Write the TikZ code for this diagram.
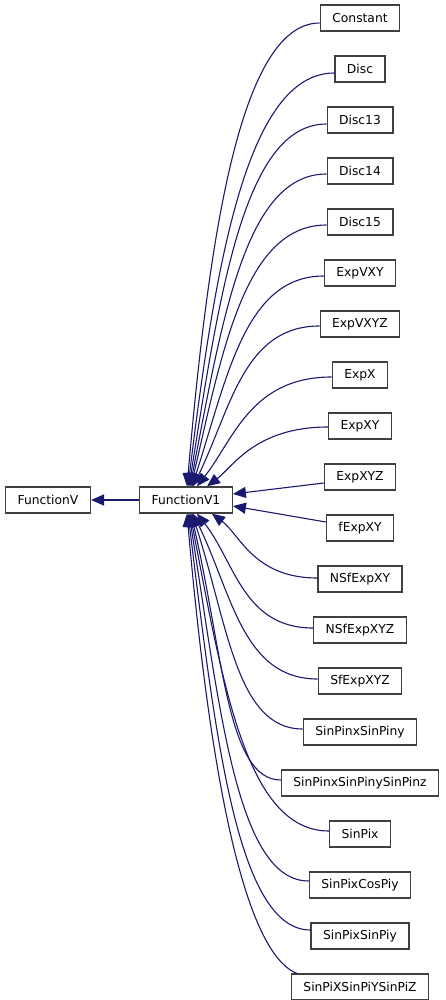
\documentclass[tikz,border=0pt]{standalone}
\usepackage{fontspec}
\setmainfont{DejaVu Sans}
\usetikzlibrary{arrows.meta,positioning,calc}
\definecolor{midnightblue}{RGB}{25,25,112}
\definecolor{boxgray}{RGB}{64,64,64}
\tikzset{
  >={Triangle[length=13pt,width=11pt]},
  cls/.style={rectangle,draw=boxgray,line width=1.3pt,fill=white,text=black,minimum height=26pt,inner xsep=12pt,inner ysep=0pt,font=\fontsize{12.3}{14}\selectfont},
  inh/.style={<-,draw=midnightblue,line width=1.1pt}
}

\begin{document}
\begin{tikzpicture}[x=1pt,y=1pt,node distance=23.7pt]
  \useasboundingbox (0,0) rectangle (445,-1000);

  \node[cls] (fv) at (48,-500) {FunctionV};
  \node[cls] (v1) at (186,-500) {FunctionV1};

  % derived classes, top to bottom
  \node[cls] (const) at (360,-18) {Constant};
  \node[cls,below=of const] (disc) {Disc};
  \node[cls,below=of disc] (disc13) {Disc13};
  \node[cls,below=of disc13] (disc14) {Disc14};
  \node[cls,below=of disc14] (disc15) {Disc15};
  \node[cls,below=of disc15] (expvxy) {ExpVXY};
  \node[cls,below=of expvxy] (expvxyz) {ExpVXYZ};
  \node[cls,below=of expvxyz] (expx) {ExpX};
  \node[cls,below=of expx] (expxy) {ExpXY};
  \node[cls,below=of expxy] (expxyz) {ExpXYZ};
  \node[cls,below=of expxyz] (fexpxy) {fExpXY};
  \node[cls,below=of fexpxy] (nsfexpxy) {NSfExpXY};
  \node[cls,below=of nsfexpxy] (nsfexpxyz) {NSfExpXYZ};
  \node[cls,below=of nsfexpxyz] (sfexpxyz) {SfExpXYZ};
  \node[cls,below=of sfexpxyz] (sinsin) {SinPinxSinPiny};
  \node[cls,below=of sinsin] (sinsinsin) {SinPinxSinPinySinPinz};
  \node[cls,below=of sinsinsin] (sinpix) {SinPix};
  \node[cls,below=of sinpix] (sincos) {SinPixCosPiy};
  \node[cls,below=of sincos] (sinpixsin) {SinPixSinPiy};
  \node[cls,below=of sinpixsin] (sinxyz) {SinPiXSinPiYSinPiZ};

  \draw[inh] (fv.east) -- (v1.west);

  % inheritance edges into FunctionV1
  \foreach \k/\s/\a/\e in {const/1/85/-5, disc/2/83/-4, disc13/3/81/-4,
      disc14/4/79/-3, disc15/5/77/-3, expvxy/6/72/-3, expvxyz/7/64/-2,
      expx/11/52/-2, expxy/21/37/-1}
    \draw[inh] let \p1=([xshift=\s pt]v1.north), \p2=([yshift=\e pt]\k.west) in
      (\p1) .. controls +(\a:{0.54*abs(\y2-\y1)}) and +({-0.6*(\x2-\x1)},0) .. (\p2);
  \draw[inh] ([yshift=6pt]v1.east) -- ([yshift=-6pt]expxyz.west);
  \draw[inh] ([yshift=-6pt]v1.east) -- ([yshift=6pt]fexpxy.west);
  \foreach \k/\s/\a/\e in {nsfexpxy/26/-37/1, nsfexpxyz/11/-52/2,
      sfexpxyz/7/-64/2, sinsin/6/-72/3, sinsinsin/5/-77/3, sinpix/4/-79/3,
      sincos/3/-81/4, sinpixsin/2/-83/6}
    \draw[inh] let \p1=([xshift=\s pt]v1.south), \p2=([yshift=\e pt]\k.west) in
      (\p1) .. controls +(\a:{0.54*abs(\y2-\y1)}) and +({-0.6*(\x2-\x1)},0) .. (\p2);
  \draw[inh] let \p1=([xshift=1pt]v1.south), \p2=([xshift=6pt]sinxyz.north west) in
    (\p1) .. controls +(-85:{0.54*abs(\y2-\y1)}) and +({-0.5*(\x2-\x1)},{0.2*(\x2-\x1)}) .. (\p2);
\end{tikzpicture}
\end{document}
